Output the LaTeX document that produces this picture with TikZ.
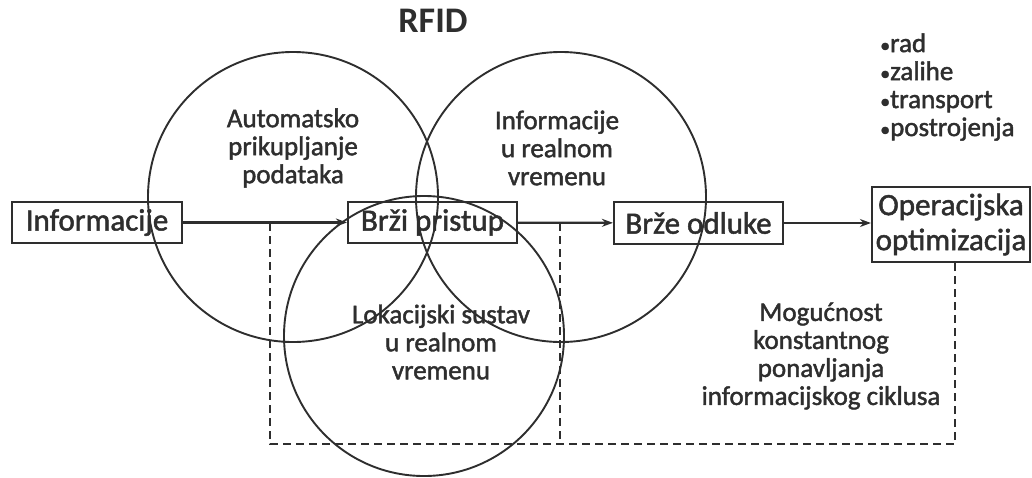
\documentclass[tikz,border=0pt]{standalone}
\usepackage{fontspec}
\setmainfont[FakeBold=1.6]{Carlito}
\newfontfamily\titlefont{Carlito Bold}
\usetikzlibrary{arrows.meta}
\definecolor{ink}{HTML}{2E2E2E}
\newcommand{\smallbul}{{\fontsize{20}{20}\selectfont•}}
\begin{document}
\begin{tikzpicture}[x=1pt,y=-1pt,
  lbl/.style={font=\fontsize{27}{28}\selectfont, align=center, text=ink, inner sep=0pt},
  box/.style={draw=ink, line width=2.2pt, font=\fontsize{31}{35}\selectfont, text=ink, inner sep=0pt, align=center},
  conn/.style={draw=ink, line width=2.2pt, -{Stealth[length=11pt,width=8pt]}},
  loopline/.style={draw=ink, line width=2.5pt, dash pattern=on 8pt off 5pt},
  ring/.style={draw=ink, line width=1.9pt, circle, inner sep=0pt}]
\useasboundingbox (0,0) rectangle (1032,477);
% circles
\node[ring, minimum size=290pt] (cA) at (293,197) {};
\node[ring, minimum size=290pt] (cB) at (561,197) {};
\node[ring, minimum size=280pt] (cC) at (424,336) {};
% title and list
\node[font=\titlefont\fontsize{36}{40}\selectfont, text=ink, inner sep=0pt] (title) at (433,21) {RFID};
\node[lbl, align=left, anchor=west, font=\fontsize{27}{28}\selectfont] (list) at (880,87) {\smallbul rad\\\smallbul zalihe\\\smallbul transport\\\smallbul postrojenja};
% circle labels
\node[lbl] (tA) at (293,148) {Automatsko\\prikupljanje\\podataka};
\node[lbl] (tB) at (557,148) {Informacije\\u realnom\\vremenu};
\node[lbl] (tC) at (441,342) {Lokacijski sustav\\u realnom\\vremenu};
\node[lbl] (tD) at (821,356) {Mogućnost\\konstantnog\\ponavljanja\\informacijskog ciklusa};
% boxes
\node[box, minimum width=170pt, minimum height=41pt] (inf) at (97,222.5) {Informacije};
\node[box, minimum width=169pt, minimum height=41pt] (brzi) at (432.5,222.5) {Brži pristup};
\node[box, minimum width=169pt, minimum height=42pt] (odl) at (698.5,223) {Brže odluke};
\node[box, minimum width=158pt, minimum height=75pt] (opt) at (951,224.5) {Operacijska\\optimizacija};
% arrows
\draw[conn] (inf) -- (brzi);
\draw[conn] (brzi) -- (odl);
\draw[conn] (odl.east) -- (odl.east -| opt.west);
% dashed feedback
\coordinate (d1) at (270,223);
\coordinate (d2) at (560,223);
\coordinate (d3) at ([xshift=4pt]opt.south);
\coordinate (b1) at (270,444);
\coordinate (b3) at (955,444);
\draw[loopline] (d1) -- (b1) -- (b3) -- (d3);
\draw[loopline] (d2) -- (d2 |- b1);
\end{tikzpicture}
\end{document}
